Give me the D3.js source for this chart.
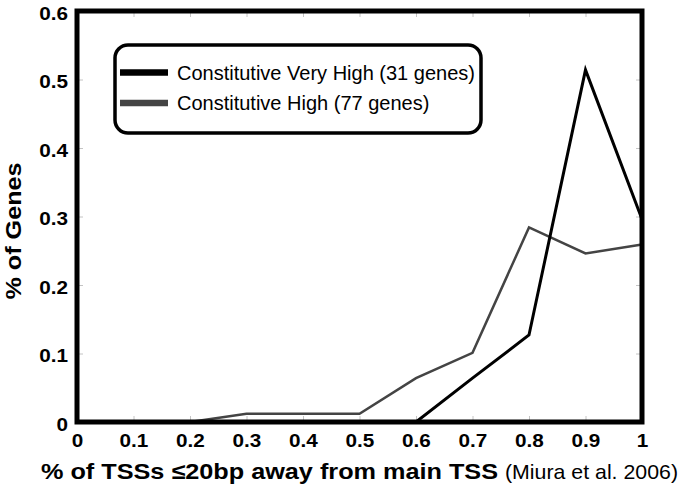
<!DOCTYPE html>
<html>
<head>
<meta charset="utf-8">
<script src="https://cdn.jsdelivr.net/npm/d3@7"></script>
<style>
  html, body { margin: 0; padding: 0; background: #fff; }
  svg { display: block; }
</style>
</head>
<body>
<svg id="chart" width="680" height="488"></svg>
<script>
const xValues = [0, 0.1, 0.2, 0.3, 0.4, 0.5, 0.6, 0.7, 0.8, 0.9, 1.0];
const veryHigh = [0, 0, 0, 0, 0, 0, 0, 0.064, 0.127, 0.514, 0.296];
const high     = [0, 0, 0, 0.012, 0.012, 0.012, 0.064, 0.101, 0.284, 0.246, 0.259];
const seriesNames = ["Constitutive Very High (31 genes)", "Constitutive High (77 genes)"];
const seriesColors = ["#000000", "#444444"];
const xTickValues = [0, 0.1, 0.2, 0.3, 0.4, 0.5, 0.6, 0.7, 0.8, 0.9, 1];
const xTickLabels = ["0", "0.1", "0.2", "0.3", "0.4", "0.5", "0.6", "0.7", "0.8", "0.9", "1"];
const yTickValues = [0, 0.1, 0.2, 0.3, 0.4, 0.5, 0.6];
const yTickLabels = ["0", "0.1", "0.2", "0.3", "0.4", "0.5", "0.6"];

const svg = d3.select("#chart");
const x = d3.scaleLinear().domain([0, 1]).range([77, 642]);
const y = d3.scaleLinear().domain([0, 0.6]).range([422, 11]);
const font = "'Liberation Sans', Arial, Helvetica, sans-serif";

function stretch(sel, factor) {
  sel.each(function () {
    const len = this.getComputedTextLength();
    d3.select(this).attr("textLength", len * factor).attr("lengthAdjust", "spacingAndGlyphs");
  });
}

// inner light ticks on all sides
function styleTicks(g) {
  g.select(".domain").remove();
  g.selectAll(".tick line").attr("stroke", "#c4c4c4").attr("stroke-width", 1);
  g.selectAll(".tick text").remove();
}
svg.append("g").attr("transform", `translate(0,${y(0)})`)
  .call(d3.axisBottom(x).tickValues(xTickValues).tickSize(-6)).call(styleTicks);
svg.append("g").attr("transform", `translate(0,${y(0.6)})`)
  .call(d3.axisTop(x).tickValues(xTickValues).tickSize(-6)).call(styleTicks);
svg.append("g").attr("transform", `translate(${x(0)},0)`)
  .call(d3.axisLeft(y).tickValues(yTickValues).tickSize(-6)).call(styleTicks);
svg.append("g").attr("transform", `translate(${x(1)},0)`)
  .call(d3.axisRight(y).tickValues(yTickValues).tickSize(-6)).call(styleTicks);

// data lines
const line = d3.line().x((d, i) => x(xValues[i])).y(d => y(d));
svg.append("path").datum(high)
  .attr("fill", "none").attr("stroke", seriesColors[1]).attr("stroke-width", 2.5)
  .attr("stroke-linejoin", "miter").attr("d", line);
svg.append("path").datum(veryHigh)
  .attr("fill", "none").attr("stroke", seriesColors[0]).attr("stroke-width", 3)
  .attr("stroke-linejoin", "miter").attr("d", line);

// frame
svg.append("rect")
  .attr("x", x(0)).attr("y", y(0.6))
  .attr("width", x(1) - x(0)).attr("height", y(0) - y(0.6))
  .attr("fill", "none").attr("stroke", "#000").attr("stroke-width", 5);

// tick labels
const xAxis = svg.append("g").attr("transform", `translate(0,${y(0)})`)
  .call(d3.axisBottom(x).tickValues(xTickValues).tickSize(0).tickPadding(0)
    .tickFormat((d, i) => xTickLabels[i]));
xAxis.select(".domain").remove();
xAxis.selectAll(".tick text")
  .attr("y", 25).attr("dy", null)
  .attr("font-family", font).attr("font-weight", "bold")
  .attr("font-size", 18).attr("fill", "#000")
  .call(stretch, 1.15);

const yAxis = svg.append("g").attr("transform", `translate(${x(0)},0)`)
  .call(d3.axisLeft(y).tickValues(yTickValues).tickSize(0).tickPadding(0)
    .tickFormat((d, i) => yTickLabels[i]));
yAxis.select(".domain").remove();
yAxis.selectAll(".tick text")
  .attr("x", -9).attr("dy", "0.45em")
  .attr("font-family", font).attr("font-weight", "bold")
  .attr("font-size", 18).attr("fill", "#000")
  .call(stretch, 1.15);

// axis titles
svg.append("text")
  .attr("transform", "translate(21,231) rotate(-90)")
  .attr("text-anchor", "middle")
  .attr("font-family", font).attr("font-weight", "bold").attr("font-size", 22)
  .attr("textLength", 137).attr("lengthAdjust", "spacingAndGlyphs")
  .text("% of Genes");

svg.append("text").attr("x", 41).attr("y", 479)
  .attr("font-family", font).attr("font-weight", "bold").attr("font-size", 22)
  .attr("textLength", 457).attr("lengthAdjust", "spacingAndGlyphs")
  .text("% of TSSs \u226420bp away from main TSS");
svg.append("text").attr("x", 505).attr("y", 479)
  .attr("font-family", font).attr("font-size", 21)
  .attr("textLength", 173).attr("lengthAdjust", "spacingAndGlyphs")
  .text("(Miura et al. 2006)");

// legend
const lg = svg.append("g");
lg.append("rect")
  .attr("x", 115).attr("y", 45).attr("width", 366).attr("height", 88)
  .attr("rx", 13).attr("ry", 13)
  .attr("fill", "#fff").attr("stroke", "#000").attr("stroke-width", 3.5);
const legendRows = [72.5, 103];
seriesNames.forEach((name, i) => {
  lg.append("line")
    .attr("x1", 120).attr("x2", 168)
    .attr("y1", legendRows[i]).attr("y2", legendRows[i])
    .attr("stroke", seriesColors[i]).attr("stroke-width", 6.5);
  lg.append("text")
    .attr("x", 177).attr("y", legendRows[i] + 7)
    .attr("font-family", font).attr("font-size", 20).attr("fill", "#000")
    .text(name);
});
</script>
</body>
</html>
